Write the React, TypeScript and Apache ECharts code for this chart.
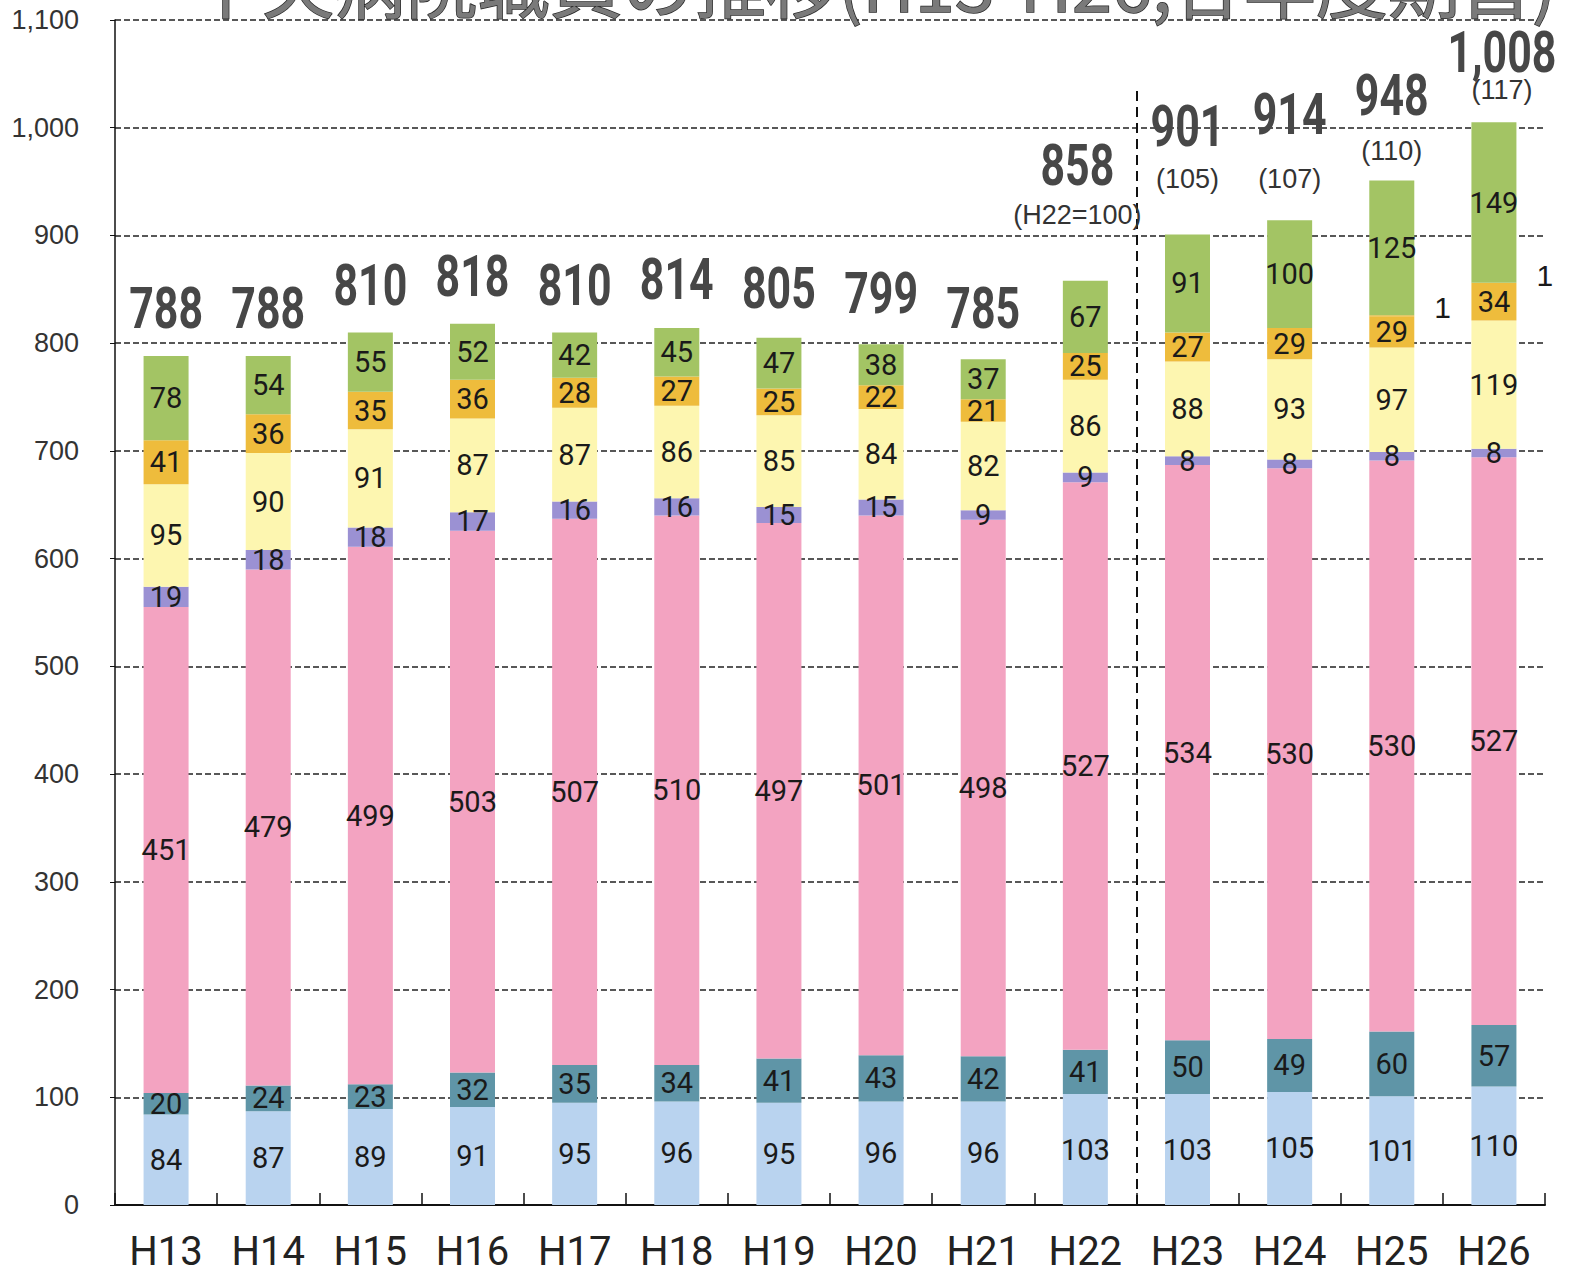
import React, { useEffect, useRef } from "react";
import * as echarts from "echarts";

const categories = ["H13", "H14", "H15", "H16", "H17", "H18", "H19", "H20", "H21", "H22", "H23", "H24", "H25", "H26"];
const seriesLightBlue = [84, 87, 89, 91, 95, 96, 95, 96, 96, 103, 103, 105, 101, 110];
const seriesTeal = [20, 24, 23, 32, 35, 34, 41, 43, 42, 41, 50, 49, 60, 57];
const seriesPink = [451, 479, 499, 503, 507, 510, 497, 501, 498, 527, 534, 530, 530, 527];
const seriesPurple = [19, 18, 18, 17, 16, 16, 15, 15, 9, 9, 8, 8, 8, 8];
const seriesYellow = [95, 90, 91, 87, 87, 86, 85, 84, 82, 86, 88, 93, 97, 119];
const seriesOrange = [41, 36, 35, 36, 28, 27, 25, 22, 21, 25, 27, 29, 29, 34];
const seriesOther = [null, null, null, null, null, null, null, null, null, null, null, null, 1, 1];
const seriesGreen = [78, 54, 55, 52, 42, 45, 47, 38, 37, 67, 91, 100, 125, 149];
const totals = [788, 788, 810, 818, 810, 814, 805, 799, 785, 858, 901, 914, 948, 1008];
const indexLabels = ["", "", "", "", "", "", "", "", "", "(H22=100)", "(105)", "(107)", "(110)", "(117)"];
const title = "中央病院職員の推移(H13-H26,各年度期首)";

// label placement (pixels above the total's value point; styling, not data)
const totalLift = [48, 48, 47, 48, 47, 49, 50, 51, 51, 116, 108, 106, 89, 67];
const indexLift = [0, 0, 0, 0, 0, 0, 0, 0, 0, 66, 55, 41, 33, 29];
const totalShiftX = [0, 0, 0, 0, 0, 0, 0, 0, 0, -8, 0, 0, 0, 8];

const NARROW = "Roboto, sans-serif";
const WIDE = "'Liberation Sans', Arial, sans-serif";

export default function App() {
  const ref = useRef<HTMLDivElement>(null);
  useEffect(() => {
    if (!ref.current) return;
    const chart = echarts.init(ref.current, null, { renderer: "svg" });

    const seg = (name: string, data: any[], color: string) => ({
      name,
      type: "bar",
      stack: "total",
      barWidth: 45,
      data,
      itemStyle: { color },
      label: {
        show: true,
        position: "inside",
        fontFamily: NARROW,
        fontSize: 29,
        color: "#1a1a1a",
      },
    });

    const option: any = {
      animation: false,
      backgroundColor: "#ffffff",
      graphic: [
        {
          type: "text",
          x: 190,
          y: 16,
          style: {
            text: title,
            fontSize: 72,
            fontWeight: "normal",
            fontFamily: "'Noto Sans CJK JP', sans-serif",
            fill: "#7a7a7a",
            stroke: "#2a2a2a",
            lineWidth: 1.5,
            verticalAlign: "bottom",
            align: "left",
          },
          z: 100,
        },
      ],
      grid: { left: 115, right: 28, top: 20, bottom: 74, containLabel: false },
      xAxis: [
        {
          type: "category",
          data: categories,
          axisLine: { show: true, lineStyle: { color: "#111", width: 2 } },
          axisTick: { show: true, inside: true, length: 12, alignWithLabel: false, lineStyle: { color: "#111", width: 1.5 } },
          axisLabel: { fontFamily: NARROW, fontSize: 40, color: "#222", margin: 26 },
          splitLine: { show: false },
        },
        { type: "value", min: 0, max: 14, show: false },
      ],
      yAxis: {
        type: "value",
        min: 0,
        max: 1100,
        interval: 100,
        axisLine: { show: true, lineStyle: { color: "#111", width: 1.5 } },
        axisTick: { show: true, length: 5, lineStyle: { color: "#111" } },
        axisLabel: {
          fontFamily: WIDE,
          fontSize: 27,
          color: "#333",
          margin: 36,
          formatter: (v: number) => v.toLocaleString("en-US"),
        },
        splitLine: { show: true, lineStyle: { color: "#222", type: [6, 3], width: 1.5 } },
      },
      series: [
        seg("区分1", seriesLightBlue, "#b9d3ef"),
        seg("区分2", seriesTeal, "#5f95a7"),
        seg("区分3", seriesPink, "#f3a3c1"),
        seg("区分4", seriesPurple, "#9b91d3"),
        seg("区分5", seriesYellow, "#fdf6b0"),
        seg("区分6", seriesOrange, "#eebc3c"),
        {
          name: "区分7",
          type: "bar",
          stack: "total",
          barWidth: 45,
          data: seriesOther,
          itemStyle: { color: "#eebc3c" },
          label: {
            show: true,
            position: "right",
            distance: 20,
            offset: [0, -8],
            fontFamily: WIDE,
            fontSize: 30,
            color: "#1a1a1a",
          },
        },
        seg("区分8", seriesGreen, "#a3c464"),
        {
          name: "合計",
          type: "custom",
          silent: true,
          z: 10,
          encode: { x: 0, y: 1 },
          data: totals.map((v, i) => [i, v]),
          renderItem: (params: any, api: any) => {
            const i = params.dataIndex;
            const pt = api.coord([api.value(0), api.value(1)]);
            const children: any[] = [
              {
                type: "text",
                x: pt[0] + totalShiftX[i],
                y: pt[1] - totalLift[i],
                scaleX: 0.74,
                style: {
                  text: totals[i].toLocaleString("en-US"),
                  fontFamily: NARROW,
                  fontWeight: "bold",
                  fontSize: 58,
                  fill: "#474747",
                  align: "center",
                  verticalAlign: "middle",
                },
              },
            ];
            if (indexLabels[i]) {
              children.push({
                type: "text",
                x: pt[0] + totalShiftX[i],
                y: pt[1] - indexLift[i],
                style: {
                  text: indexLabels[i],
                  fontFamily: WIDE,
                  fontSize: 27,
                  fill: "#333333",
                  align: "center",
                  verticalAlign: "middle",
                },
              });
            }
            return { type: "group", children };
          },
        },
        {
          name: "区切り",
          type: "line",
          xAxisIndex: 1,
          yAxisIndex: 0,
          data: [],
          markLine: {
            silent: true,
            symbol: ["none", "none"],
            label: { show: false },
            lineStyle: { color: "#111", type: [10, 6], width: 2 },
            data: [[{ coord: [10, 0] }, { coord: [10, 1035] }]],
          },
        },
      ],
    };
    chart.setOption(option);
    return () => chart.dispose();
  }, []);
  return <div ref={ref} style={{ position: "fixed", left: 0, top: 0, width: 1573, height: 1279 }} />;
}
